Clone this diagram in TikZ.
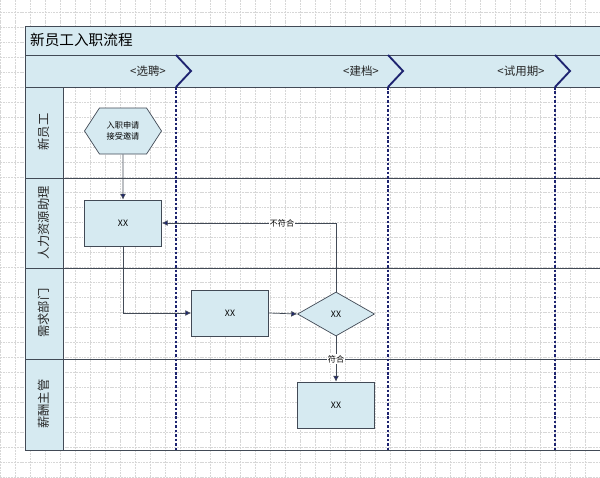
\documentclass[tikz,border=0pt]{standalone}
\usepackage{fontspec}
\newfontfamily\cjk{Noto Sans CJK SC}
\usetikzlibrary{shapes.geometric,shapes.symbols,arrows.meta}

\definecolor{headblue}{RGB}{214,234,241}
\definecolor{framegray}{RGB}{66,74,86}
\definecolor{phasenavy}{RGB}{30,36,112}
\definecolor{gridgray}{RGB}{215,215,215}

\tikzset{
  gridline/.style={draw=gridgray, line width=0.5pt, dash pattern=on 1.6pt off 0.8pt},
  band/.style={fill=headblue, draw=framegray, line width=0.8pt},
  laneline/.style={draw=framegray, line width=0.8pt},
  lanelabel/.style={rotate=90, font=\cjk\fontsize{10.5}{12}\selectfont, text=black!85},
  phaselabel/.style={font=\cjk\fontsize{9.8}{11}\selectfont, text=black!85},
  chevron/.style={draw=phasenavy, line width=1.6pt},
  phaseline/.style={draw=phasenavy, line width=1.6pt, dash pattern=on 2.2pt off 1.6pt},
  procbox/.style={draw=framegray, fill=headblue, line width=0.6pt, minimum width=2.31cm,
    minimum height=1.38cm, inner sep=0pt, font=\cjk\fontsize{7.5}{9}\selectfont},
  startbox/.style={signal, signal to=west and east, signal pointer angle=114,
    draw=framegray, fill=headblue, line width=0.6pt, minimum width=2.31cm,
    minimum height=1.38cm, inner sep=0pt, align=center, font=\cjk\fontsize{7}{9}\selectfont},
  checkbox/.style={diamond, aspect=1.75, draw=framegray, fill=headblue, line width=0.6pt,
    minimum width=2.31cm, minimum height=1.32cm, inner sep=0pt, font=\cjk\fontsize{7.5}{9}\selectfont},
  flow/.style={draw=framegray, line width=0.6pt, -{Latex[length=5pt,width=5pt,fill=phasenavy]}},
  flowtag/.style={fill=white, inner sep=1pt, font=\cjk\fontsize{7}{8}\selectfont}
}

\begin{document}
\begin{tikzpicture}[x=0.03cm,y=-0.03cm]
  \useasboundingbox (0,0) rectangle (600,477);
  \fill[white] (0,0) rectangle (600,477);

  % background grid
  \foreach \x in {0,15,...,600}
    \draw[gridline] (\x,0) -- (\x,477);
  \foreach \y in {12,27,...,477}
    \draw[gridline] (0,\y) -- (600,\y);

  % title and phase rows
  \draw[band] (25,26) rectangle (602,55);
  \draw[band] (25,55) rectangle (602,87);
  \node[anchor=west, font=\cjk\fontsize{12.5}{14}\selectfont] (title) at (26,40) {新员工入职流程};

  % lanes
  \draw[band] (25,87) rectangle (63,450);
  \foreach \y in {178,268,359,450}
    \draw[laneline] (25,\y) -- (602,\y);
  \node[lanelabel] (lane1) at (44,132) {新员工};
  \node[lanelabel] (lane2) at (44,223) {人力资源助理};
  \node[lanelabel] (lane3) at (44,313) {需求部门};
  \node[lanelabel] (lane4) at (44,404) {薪酬主管};

  % phases
  \node[phaselabel] (phase1) at (148,71) {<选聘>};
  \node[phaselabel] (phase2) at (361,71) {<建档>};
  \node[phaselabel] (phase3) at (521,71) {<试用期>};
  \foreach \x in {176,388,555} {
    \draw[chevron] (\x,55) -- (\x+15,71) -- (\x,87);
    \draw[phaseline] (\x,87) -- (\x,450);
  }

  % steps
  \node[startbox] (apply) at (123,131) {入职申请\\接受邀请};
  \node[procbox] (hr) at (123,223) {XX};
  \node[procbox] (dept) at (230,313) {XX};
  \node[checkbox] (check) at (336,314) {XX};
  \node[procbox] (pay) at (336,405) {XX};

  \draw[flow] (apply) -- (hr);
  \draw[flow] (hr.south) |- (dept.west);
  \draw[flow] (dept.east) -- (check.west);
  \draw[flow] (check.north) |- node[flowtag, pos=0.655] {不符合} (hr.east);
  \draw[flow] (check.south) -- node[flowtag] {符合} (pay.north);
\end{tikzpicture}
\end{document}
